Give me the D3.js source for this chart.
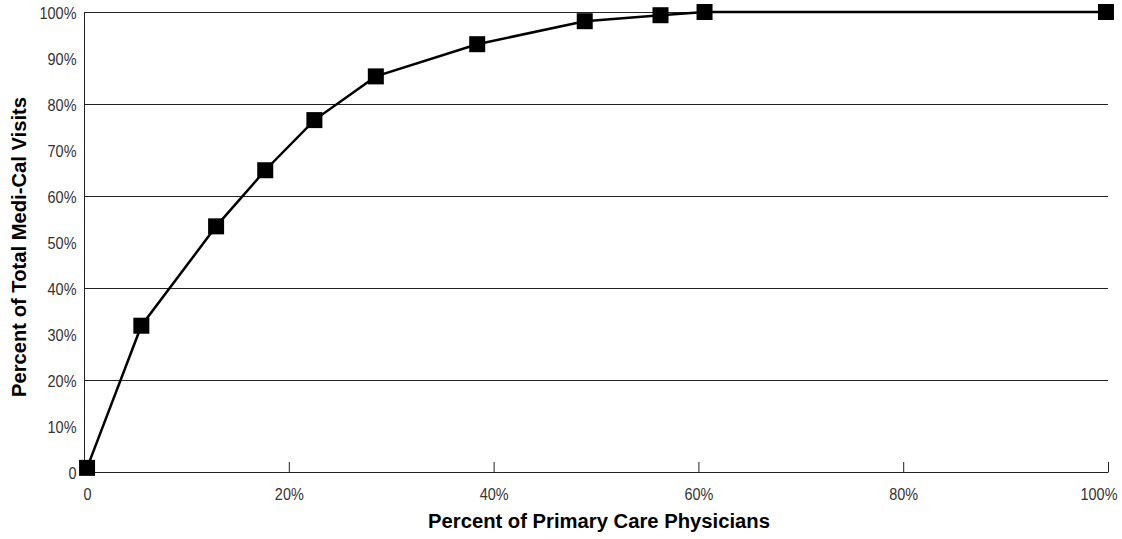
<!DOCTYPE html>
<html>
<head>
<meta charset="utf-8">
<script src="https://cdn.jsdelivr.net/npm/d3@7"></script>
<style>
  body { margin: 0; background: #fff; }
  text { font-family: "Liberation Sans", Arial, sans-serif; }
</style>
</head>
<body>
<svg width="1122" height="539"></svg>
<script>
// share of physicians (x) vs cumulative share of visits (y), in percent
const physicianPct = [0.3, 5.6, 12.9, 17.7, 22.5, 28.5, 38.4, 48.9, 56.3, 60.6, 99.8];
const visitPct = [0.9, 31.8, 53.4, 65.6, 76.5, 86.0, 93.0, 98.0, 99.3, 100, 100];
const yTicks = [0, 10, 20, 30, 40, 50, 60, 70, 80, 90, 100];
const xTicks = [0, 20, 40, 60, 80, 100];
const gridLines = [20, 40, 60, 80, 100];

const svg = d3.select("svg");
const margin = { top: 12, right: 14, bottom: 67, left: 84 };
const width = +svg.attr("width");
const height = +svg.attr("height");
const innerWidth = width - margin.left - margin.right;
const innerHeight = height - margin.top - margin.bottom;
const squeeze = 0.85; // tick labels are set in a condensed face

const data = physicianPct.map((x, i) => ({ x: x, y: visitPct[i] }));

const xScale = d3.scaleLinear().domain([0, 100]).range([0, innerWidth]);
const yScale = d3.scaleLinear().domain([0, 100]).range([innerHeight, 0]);

const pctFormat = (d) => (d === 0 ? "0" : d + "%");

// narrow the glyphs without a transform
const condense = (sel) =>
  sel.each(function () {
    const w = this.getComputedTextLength();
    d3.select(this)
      .attr("textLength", w * squeeze)
      .attr("lengthAdjust", "spacingAndGlyphs");
  });

const g = svg.append("g")
  .attr("transform", `translate(${margin.left}, ${margin.top})`);

// horizontal grid
g.selectAll(".grid")
  .data(gridLines)
  .enter()
  .append("line")
  .attr("x1", 0)
  .attr("x2", innerWidth)
  .attr("y1", (d) => Math.round(yScale(d)) + 0.5)
  .attr("y2", (d) => Math.round(yScale(d)) + 0.5)
  .attr("stroke", "#222")
  .attr("stroke-width", 1);

// y axis
const yAxis = d3.axisLeft(yScale)
  .tickValues(yTicks)
  .tickSize(0)
  .tickPadding(7.5)
  .tickFormat(pctFormat);

const yAxisG = g.append("g").call(yAxis);
yAxisG.select(".domain").attr("stroke", "#222");
yAxisG.selectAll("text")
  .attr("font-size", 17)
  .attr("fill", "#333")
  .attr("dy", "0.4em")
  .call(condense);

// x axis (ticks point up into the plot)
const xAxis = d3.axisBottom(xScale)
  .tickValues(xTicks)
  .tickSizeInner(-10)
  .tickSizeOuter(0)
  .tickPadding(16)
  .tickFormat(pctFormat);

const xAxisG = g.append("g")
  .attr("transform", `translate(0, ${innerHeight})`)
  .call(xAxis);
xAxisG.select(".domain").attr("stroke", "#222");
xAxisG.selectAll(".tick line").attr("stroke", "#222");
xAxisG.selectAll("text")
  .attr("font-size", 17)
  .attr("fill", "#333")
  .call(condense);
xAxisG.selectAll("text")
  .filter((d) => d === 0)
  .attr("x", 3);
xAxisG.selectAll("text")
  .filter((d) => d === 100)
  .attr("text-anchor", "end")
  .attr("x", 9);

// axis titles
svg.append("text")
  .attr("x", 599)
  .attr("y", 528)
  .attr("text-anchor", "middle")
  .attr("font-size", 20)
  .attr("font-weight", "bold")
  .attr("fill", "#000")
  .attr("textLength", 342)
  .attr("lengthAdjust", "spacingAndGlyphs")
  .text("Percent of Primary Care Physicians");

svg.append("text")
  .attr("transform", "rotate(-90)")
  .attr("x", -247)
  .attr("y", 26)
  .attr("text-anchor", "middle")
  .attr("font-size", 20)
  .attr("font-weight", "bold")
  .attr("fill", "#000")
  .attr("textLength", 300)
  .attr("lengthAdjust", "spacingAndGlyphs")
  .text("Percent of Total Medi-Cal Visits");

// line and markers
const line = d3.line()
  .x((d) => xScale(d.x))
  .y((d) => yScale(d.y));

g.append("path")
  .datum(data)
  .attr("d", line)
  .attr("fill", "none")
  .attr("stroke", "#000")
  .attr("stroke-width", 2.5);

const size = 16;
g.selectAll(".marker")
  .data(data)
  .enter()
  .append("rect")
  .attr("x", (d) => xScale(d.x) - size / 2)
  .attr("y", (d) => yScale(d.y) - size / 2)
  .attr("width", size)
  .attr("height", size)
  .attr("fill", "#000");
</script>
</body>
</html>
